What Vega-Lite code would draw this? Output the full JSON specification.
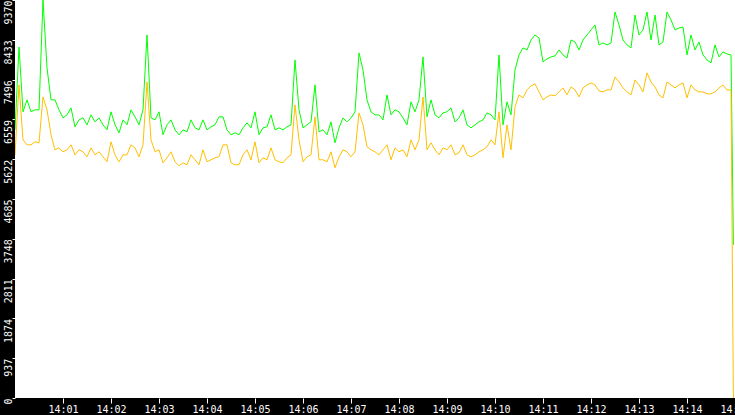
{
  "$schema": "https://vega.github.io/schema/vega-lite/v6.json",
  "width": 720,
  "height": 398,
  "autosize": {"type": "none"},
  "padding": {"left": 15, "top": 0, "right": 0, "bottom": 17},
  "background": "black",
  "config": {
    "view": {"fill": "white", "stroke": null},
    "axisY": {
      "title": null,
      "format": "d",
      "labelAngle": 270,
      "labelAlign": "right",
      "labelBaseline": "middle",
      "labelColor": "white",
      "labelFont": "DejaVu Sans Mono",
      "labelFontSize": 10,
      "labelOverlap": false,
      "labelFlush": false,
      "tickColor": "white",
      "tickSize": 3,
      "labelPadding": 4,
      "domain": false,
      "grid": false
    },
    "axisX": {
      "title": null,
      "format": "%H:%M",
      "labelColor": "white",
      "labelFont": "DejaVu Sans Mono",
      "labelFontSize": 10,
      "labelFlush": false,
      "labelOverlap": false,
      "tickColor": "white",
      "tickSize": 5,
      "labelPadding": 1,
      "domain": false,
      "grid": false
    }
  },
  "data": {"values": [
    {"t":"2024-01-01T14:00:00","g":6313,"b":5725},
    {"t":"2024-01-01T14:00:05","g":8265,"b":7371},
    {"t":"2024-01-01T14:00:10","g":6737,"b":6078},
    {"t":"2024-01-01T14:00:15","g":7019,"b":5961},
    {"t":"2024-01-01T14:00:20","g":6737,"b":5961},
    {"t":"2024-01-01T14:00:25","g":6784,"b":6031},
    {"t":"2024-01-01T14:00:30","g":6784,"b":6008},
    {"t":"2024-01-01T14:00:35","g":9370,"b":7089},
    {"t":"2024-01-01T14:00:40","g":7771,"b":6784},
    {"t":"2024-01-01T14:00:45","g":7019,"b":6196},
    {"t":"2024-01-01T14:00:50","g":7019,"b":5843},
    {"t":"2024-01-01T14:00:55","g":6784,"b":5890},
    {"t":"2024-01-01T14:01:00","g":6595,"b":5796},
    {"t":"2024-01-01T14:01:05","g":6666,"b":5843},
    {"t":"2024-01-01T14:01:10","g":6831,"b":5961},
    {"t":"2024-01-01T14:01:15","g":6384,"b":5725},
    {"t":"2024-01-01T14:01:20","g":6548,"b":5843},
    {"t":"2024-01-01T14:01:25","g":6595,"b":5796},
    {"t":"2024-01-01T14:01:30","g":6431,"b":5678},
    {"t":"2024-01-01T14:01:35","g":6666,"b":5890},
    {"t":"2024-01-01T14:01:40","g":6501,"b":5725},
    {"t":"2024-01-01T14:01:45","g":6595,"b":5796},
    {"t":"2024-01-01T14:01:50","g":6431,"b":5678},
    {"t":"2024-01-01T14:01:55","g":6313,"b":5561},
    {"t":"2024-01-01T14:02:00","g":6737,"b":6031},
    {"t":"2024-01-01T14:02:05","g":6431,"b":5725},
    {"t":"2024-01-01T14:02:10","g":6243,"b":5561},
    {"t":"2024-01-01T14:02:15","g":6548,"b":5725},
    {"t":"2024-01-01T14:02:20","g":6431,"b":5725},
    {"t":"2024-01-01T14:02:25","g":6784,"b":5961},
    {"t":"2024-01-01T14:02:30","g":6619,"b":5890},
    {"t":"2024-01-01T14:02:35","g":6431,"b":5678},
    {"t":"2024-01-01T14:02:40","g":6784,"b":5961},
    {"t":"2024-01-01T14:02:45","g":8547,"b":7442},
    {"t":"2024-01-01T14:02:50","g":6595,"b":6078},
    {"t":"2024-01-01T14:02:55","g":6548,"b":5796},
    {"t":"2024-01-01T14:03:00","g":6737,"b":5843},
    {"t":"2024-01-01T14:03:05","g":6196,"b":5537},
    {"t":"2024-01-01T14:03:10","g":6431,"b":5655},
    {"t":"2024-01-01T14:03:15","g":6548,"b":5796},
    {"t":"2024-01-01T14:03:20","g":6313,"b":5561},
    {"t":"2024-01-01T14:03:25","g":6196,"b":5467},
    {"t":"2024-01-01T14:03:30","g":6313,"b":5537},
    {"t":"2024-01-01T14:03:35","g":6266,"b":5490},
    {"t":"2024-01-01T14:03:40","g":6548,"b":5725},
    {"t":"2024-01-01T14:03:45","g":6360,"b":5608},
    {"t":"2024-01-01T14:03:50","g":6313,"b":5490},
    {"t":"2024-01-01T14:03:55","g":6548,"b":5843},
    {"t":"2024-01-01T14:04:00","g":6313,"b":5561},
    {"t":"2024-01-01T14:04:05","g":6384,"b":5608},
    {"t":"2024-01-01T14:04:10","g":6431,"b":5655},
    {"t":"2024-01-01T14:04:15","g":6619,"b":5678},
    {"t":"2024-01-01T14:04:20","g":6619,"b":5961},
    {"t":"2024-01-01T14:04:25","g":6313,"b":5961},
    {"t":"2024-01-01T14:04:30","g":6196,"b":5537},
    {"t":"2024-01-01T14:04:35","g":6243,"b":5490},
    {"t":"2024-01-01T14:04:40","g":6196,"b":5490},
    {"t":"2024-01-01T14:04:45","g":6360,"b":5725},
    {"t":"2024-01-01T14:04:50","g":6478,"b":5843},
    {"t":"2024-01-01T14:04:55","g":6360,"b":5608},
    {"t":"2024-01-01T14:05:00","g":6737,"b":6031},
    {"t":"2024-01-01T14:05:05","g":6196,"b":5537},
    {"t":"2024-01-01T14:05:10","g":6360,"b":5655},
    {"t":"2024-01-01T14:05:15","g":6384,"b":5608},
    {"t":"2024-01-01T14:05:20","g":6666,"b":5890},
    {"t":"2024-01-01T14:05:25","g":6313,"b":5608},
    {"t":"2024-01-01T14:05:30","g":6360,"b":5561},
    {"t":"2024-01-01T14:05:35","g":6313,"b":5537},
    {"t":"2024-01-01T14:05:40","g":6384,"b":5655},
    {"t":"2024-01-01T14:05:45","g":6431,"b":5725},
    {"t":"2024-01-01T14:05:50","g":7959,"b":6901},
    {"t":"2024-01-01T14:05:55","g":6784,"b":6078},
    {"t":"2024-01-01T14:06:00","g":6360,"b":5561},
    {"t":"2024-01-01T14:06:05","g":6431,"b":5678},
    {"t":"2024-01-01T14:06:10","g":6501,"b":5725},
    {"t":"2024-01-01T14:06:15","g":7371,"b":6619},
    {"t":"2024-01-01T14:06:20","g":6266,"b":5608},
    {"t":"2024-01-01T14:06:25","g":6313,"b":5608},
    {"t":"2024-01-01T14:06:30","g":6196,"b":5561},
    {"t":"2024-01-01T14:06:35","g":6501,"b":5796},
    {"t":"2024-01-01T14:06:40","g":6008,"b":5420},
    {"t":"2024-01-01T14:06:45","g":6360,"b":5678},
    {"t":"2024-01-01T14:06:50","g":6595,"b":5843},
    {"t":"2024-01-01T14:06:55","g":6501,"b":5796},
    {"t":"2024-01-01T14:07:00","g":6595,"b":5678},
    {"t":"2024-01-01T14:07:05","g":6737,"b":5796},
    {"t":"2024-01-01T14:07:10","g":8124,"b":6713},
    {"t":"2024-01-01T14:07:15","g":7724,"b":6431},
    {"t":"2024-01-01T14:07:20","g":7019,"b":5914},
    {"t":"2024-01-01T14:07:25","g":6737,"b":5843},
    {"t":"2024-01-01T14:07:30","g":6666,"b":5796},
    {"t":"2024-01-01T14:07:35","g":6666,"b":5725},
    {"t":"2024-01-01T14:07:40","g":6548,"b":5843},
    {"t":"2024-01-01T14:07:45","g":7136,"b":5961},
    {"t":"2024-01-01T14:07:50","g":6666,"b":5608},
    {"t":"2024-01-01T14:07:55","g":6784,"b":5890},
    {"t":"2024-01-01T14:08:00","g":6737,"b":5796},
    {"t":"2024-01-01T14:08:05","g":6595,"b":5843},
    {"t":"2024-01-01T14:08:10","g":6431,"b":5678},
    {"t":"2024-01-01T14:08:15","g":6972,"b":6078},
    {"t":"2024-01-01T14:08:20","g":6737,"b":5843},
    {"t":"2024-01-01T14:08:25","g":7019,"b":6078},
    {"t":"2024-01-01T14:08:30","g":8030,"b":7089},
    {"t":"2024-01-01T14:08:35","g":6619,"b":5843},
    {"t":"2024-01-01T14:08:40","g":7019,"b":6008},
    {"t":"2024-01-01T14:08:45","g":6666,"b":5843},
    {"t":"2024-01-01T14:08:50","g":6595,"b":5725},
    {"t":"2024-01-01T14:08:55","g":6713,"b":5890},
    {"t":"2024-01-01T14:09:00","g":6737,"b":5843},
    {"t":"2024-01-01T14:09:05","g":6831,"b":5961},
    {"t":"2024-01-01T14:09:10","g":6501,"b":5725},
    {"t":"2024-01-01T14:09:15","g":6595,"b":5773},
    {"t":"2024-01-01T14:09:20","g":6784,"b":5961},
    {"t":"2024-01-01T14:09:25","g":6431,"b":5725},
    {"t":"2024-01-01T14:09:30","g":6360,"b":5678},
    {"t":"2024-01-01T14:09:35","g":6431,"b":5725},
    {"t":"2024-01-01T14:09:40","g":6501,"b":5796},
    {"t":"2024-01-01T14:09:45","g":6548,"b":5843},
    {"t":"2024-01-01T14:09:50","g":6713,"b":5914},
    {"t":"2024-01-01T14:09:55","g":6666,"b":6078},
    {"t":"2024-01-01T14:10:00","g":6548,"b":5961},
    {"t":"2024-01-01T14:10:05","g":8077,"b":6737},
    {"t":"2024-01-01T14:10:10","g":6431,"b":5655},
    {"t":"2024-01-01T14:10:15","g":6972,"b":6431},
    {"t":"2024-01-01T14:10:20","g":6666,"b":5843},
    {"t":"2024-01-01T14:10:25","g":7724,"b":6854},
    {"t":"2024-01-01T14:10:30","g":8077,"b":7136},
    {"t":"2024-01-01T14:10:35","g":8241,"b":7066},
    {"t":"2024-01-01T14:10:40","g":8194,"b":7254},
    {"t":"2024-01-01T14:10:45","g":8429,"b":7348},
    {"t":"2024-01-01T14:10:50","g":8547,"b":7395},
    {"t":"2024-01-01T14:10:55","g":8476,"b":7207},
    {"t":"2024-01-01T14:11:00","g":7912,"b":7019},
    {"t":"2024-01-01T14:11:05","g":7983,"b":7089},
    {"t":"2024-01-01T14:11:10","g":8030,"b":7136},
    {"t":"2024-01-01T14:11:15","g":8053,"b":7113},
    {"t":"2024-01-01T14:11:20","g":8194,"b":7207},
    {"t":"2024-01-01T14:11:25","g":8077,"b":7301},
    {"t":"2024-01-01T14:11:30","g":8006,"b":7136},
    {"t":"2024-01-01T14:11:35","g":8429,"b":7324},
    {"t":"2024-01-01T14:11:40","g":8382,"b":7254},
    {"t":"2024-01-01T14:11:45","g":8194,"b":7089},
    {"t":"2024-01-01T14:11:50","g":8429,"b":7301},
    {"t":"2024-01-01T14:11:55","g":8547,"b":7371},
    {"t":"2024-01-01T14:12:00","g":8665,"b":7418},
    {"t":"2024-01-01T14:12:05","g":8782,"b":7371},
    {"t":"2024-01-01T14:12:10","g":8312,"b":7230},
    {"t":"2024-01-01T14:12:15","g":8359,"b":7207},
    {"t":"2024-01-01T14:12:20","g":8312,"b":7254},
    {"t":"2024-01-01T14:12:25","g":8359,"b":7254},
    {"t":"2024-01-01T14:12:30","g":9088,"b":7559},
    {"t":"2024-01-01T14:12:35","g":8782,"b":7442},
    {"t":"2024-01-01T14:12:40","g":8429,"b":7301},
    {"t":"2024-01-01T14:12:45","g":8312,"b":7207},
    {"t":"2024-01-01T14:12:50","g":8241,"b":7136},
    {"t":"2024-01-01T14:12:55","g":9017,"b":7489},
    {"t":"2024-01-01T14:13:00","g":8547,"b":7371},
    {"t":"2024-01-01T14:13:05","g":8665,"b":7207},
    {"t":"2024-01-01T14:13:10","g":9088,"b":7654},
    {"t":"2024-01-01T14:13:15","g":8429,"b":7442},
    {"t":"2024-01-01T14:13:20","g":9017,"b":7324},
    {"t":"2024-01-01T14:13:25","g":8312,"b":7136},
    {"t":"2024-01-01T14:13:30","g":8382,"b":7066},
    {"t":"2024-01-01T14:13:35","g":9088,"b":7442},
    {"t":"2024-01-01T14:13:40","g":8900,"b":7371},
    {"t":"2024-01-01T14:13:45","g":8665,"b":7301},
    {"t":"2024-01-01T14:13:50","g":8712,"b":7371},
    {"t":"2024-01-01T14:13:55","g":8735,"b":7418},
    {"t":"2024-01-01T14:14:00","g":8077,"b":7066},
    {"t":"2024-01-01T14:14:05","g":8547,"b":7371},
    {"t":"2024-01-01T14:14:10","g":8194,"b":7254},
    {"t":"2024-01-01T14:14:15","g":8382,"b":7207},
    {"t":"2024-01-01T14:14:20","g":8077,"b":7207},
    {"t":"2024-01-01T14:14:25","g":7959,"b":7160},
    {"t":"2024-01-01T14:14:30","g":7889,"b":7160},
    {"t":"2024-01-01T14:14:35","g":8312,"b":7207},
    {"t":"2024-01-01T14:14:40","g":8030,"b":7301},
    {"t":"2024-01-01T14:14:45","g":8147,"b":7371},
    {"t":"2024-01-01T14:14:50","g":8100,"b":7254},
    {"t":"2024-01-01T14:14:55","g":8077,"b":7254},
    {"t":"2024-01-01T14:14:58","g":3609,"b":0}
  ]},
  "encoding": {
    "x": {
      "field": "t",
      "type": "temporal",
      "scale": {"domain": [
        {"year": 2024, "month": 1, "date": 1, "hours": 14, "minutes": 0},
        {"year": 2024, "month": 1, "date": 1, "hours": 14, "minutes": 15}
      ]},
      "axis": {
        "values": [
          {"year": 2024, "month": 1, "date": 1, "hours": 14, "minutes": 1},
          {"year": 2024, "month": 1, "date": 1, "hours": 14, "minutes": 2},
          {"year": 2024, "month": 1, "date": 1, "hours": 14, "minutes": 3},
          {"year": 2024, "month": 1, "date": 1, "hours": 14, "minutes": 4},
          {"year": 2024, "month": 1, "date": 1, "hours": 14, "minutes": 5},
          {"year": 2024, "month": 1, "date": 1, "hours": 14, "minutes": 6},
          {"year": 2024, "month": 1, "date": 1, "hours": 14, "minutes": 7},
          {"year": 2024, "month": 1, "date": 1, "hours": 14, "minutes": 8},
          {"year": 2024, "month": 1, "date": 1, "hours": 14, "minutes": 9},
          {"year": 2024, "month": 1, "date": 1, "hours": 14, "minutes": 10},
          {"year": 2024, "month": 1, "date": 1, "hours": 14, "minutes": 11},
          {"year": 2024, "month": 1, "date": 1, "hours": 14, "minutes": 12},
          {"year": 2024, "month": 1, "date": 1, "hours": 14, "minutes": 13},
          {"year": 2024, "month": 1, "date": 1, "hours": 14, "minutes": 14},
          {"year": 2024, "month": 1, "date": 1, "hours": 14, "minutes": 15}
        ]
      }
    }
  },
  "layer": [
    {
      "mark": {"type": "line", "color": "#00ff00", "strokeWidth": 1, "clip": true},
      "encoding": {
        "y": {
          "field": "g",
          "type": "quantitative",
          "title": null,
          "scale": {"domain": [0, 9370], "nice": false, "zero": true},
          "axis": {"values": [0, 937, 1874, 2811, 3748, 4685, 5622, 6559, 7496, 8433, 9370], "labelOverlap": false, "labelBound": false}
        }
      }
    },
    {
      "mark": {"type": "line", "color": "#ffc000", "strokeWidth": 1, "clip": true},
      "encoding": {
        "y": {
          "field": "b",
          "type": "quantitative",
          "title": null,
          "axis": {"values": [0, 937, 1874, 2811, 3748, 4685, 5622, 6559, 7496, 8433, 9370], "labelOverlap": false, "labelBound": false}
        }
      }
    }
  ]
}
